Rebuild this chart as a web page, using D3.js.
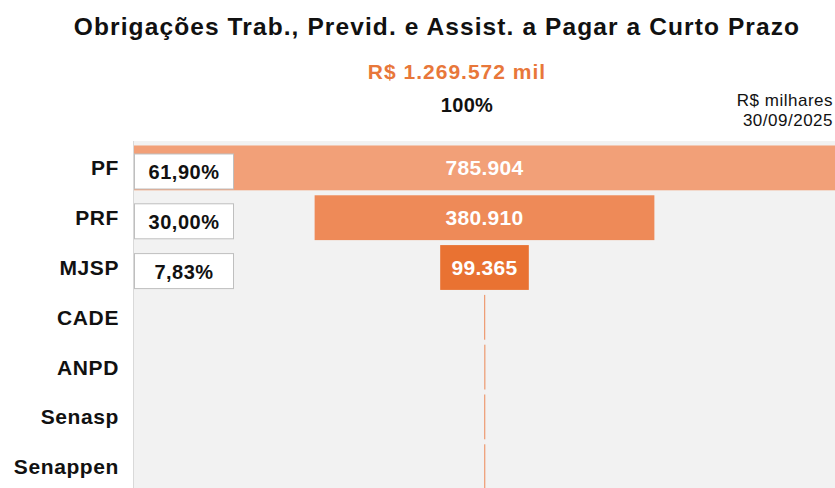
<!DOCTYPE html>
<meta charset="utf-8">
<style>
  body { margin: 0; background: #fff; }
  text { font-family: "Liberation Sans", Arial, sans-serif; }
</style>
<body>
<script src="https://cdn.jsdelivr.net/npm/d3@7"></script>
<script>
// data (R$ milhares)
var categories = ["PF", "PRF", "MJSP", "CADE", "ANPD", "Senasp", "Senappen"];
var values = [785904, 380910, 99365, 1020, 640, 880, 853];
var shares = ["61,90%", "30,00%", "7,83%", null, null, null, null];
var barColors = ["#F2A078", "#EE8A58", "#E97232", "#EE9A70", "#EE9A70", "#EE9A70", "#EE9A70"];

var width = 835, height = 488;
var panel = {left: 133, top: 141, right: 835, bottom: 488};
var cx = 484.5;

var svg = d3.select("body").append("svg")
    .attr("width", width)
    .attr("height", height);

// titles
svg.append("text")
    .attr("x", 437).attr("y", 35)
    .attr("text-anchor", "middle")
    .style("font-size", "24.5px").style("font-weight", "bold").style("fill", "#111")
    .style("letter-spacing", "1.1px")
    .text("Obrigações Trab., Previd. e Assist. a Pagar a Curto Prazo");

svg.append("text")
    .attr("x", 457).attr("y", 78.5)
    .attr("text-anchor", "middle")
    .style("font-size", "21px").style("font-weight", "bold").style("fill", "#E8773A")
    .style("letter-spacing", "1px")
    .text("R$ 1.269.572 mil");

svg.append("text")
    .attr("x", 467).attr("y", 112)
    .attr("text-anchor", "middle")
    .style("font-size", "20px").style("font-weight", "bold").style("fill", "#111")
    .style("letter-spacing", "0.3px")
    .text("100%");

svg.append("text")
    .attr("x", 833).attr("y", 106)
    .attr("text-anchor", "end")
    .style("font-size", "17px").style("fill", "#111")
    .style("letter-spacing", "0.5px")
    .text("R$ milhares");
svg.append("text")
    .attr("x", 833).attr("y", 126)
    .attr("text-anchor", "end")
    .style("font-size", "17px").style("fill", "#111")
    .style("letter-spacing", "0.5px")
    .text("30/09/2025");

// panel background
svg.append("rect")
    .attr("x", panel.left).attr("y", panel.top)
    .attr("width", panel.right - panel.left).attr("height", panel.bottom - panel.top)
    .style("fill", "#F2F2F2");
svg.append("line")
    .attr("x1", panel.left + 0.5).attr("x2", panel.left + 0.5)
    .attr("y1", panel.top).attr("y2", panel.bottom)
    .style("stroke", "#D9D9D9");

// scales
var y = d3.scaleBand()
    .domain(categories)
    .range([143, 143 + 49.8 * 7])
    .paddingInner(0.1)
    .paddingOuter(0.05);

var x = d3.scaleLinear()
    .domain([0, d3.max(values)])
    .range([0, 701]);

var rows = categories.map(function(c, i) {
    return {cat: c, value: values[i], share: shares[i], color: barColors[i]};
});

// bars (funnel, centered)
svg.selectAll(".bar")
    .data(rows)
    .enter().append("rect")
    .attr("class", "bar")
    .attr("x", function(d) { return cx - x(d.value) / 2; })
    .attr("y", function(d) { return y(d.cat); })
    .attr("width", function(d) { return Math.max(1.2, x(d.value)); })
    .attr("height", y.bandwidth())
    .style("fill", function(d) { return d.color; });

// value labels in bars
svg.selectAll(".val")
    .data(rows.filter(function(d) { return x(d.value) > 60; }))
    .enter().append("text")
    .attr("class", "val")
    .attr("x", cx)
    .attr("y", function(d) { return y(d.cat) + y.bandwidth() / 2 + 7.5; })
    .attr("text-anchor", "middle")
    .style("font-size", "21px").style("font-weight", "bold").style("fill", "#fff")
    .style("letter-spacing", "0.3px")
    .text(function(d) { return d3.format(",")(d.value).replace(/,/g, "."); });

// category labels
svg.selectAll(".cat")
    .data(rows)
    .enter().append("text")
    .attr("class", "cat")
    .attr("x", 119)
    .attr("y", function(d) { return y(d.cat) + y.bandwidth() / 2 + 7.5; })
    .attr("text-anchor", "end")
    .style("font-size", "21px").style("font-weight", "bold").style("fill", "#111")
    .style("letter-spacing", "0.6px")
    .text(function(d) { return d.cat; });

// share boxes
var boxes = svg.selectAll(".share")
    .data(rows.filter(function(d) { return d.share; }))
    .enter().append("g")
    .attr("class", "share")
    .attr("transform", function(d) { return "translate(134.5," + (y(d.cat) + 8.5) + ")"; });
boxes.append("rect")
    .attr("width", 99).attr("height", 35)
    .style("fill", "#fff").style("stroke", "#BFBFBF");
boxes.append("text")
    .attr("x", 49.5).attr("y", 25)
    .attr("text-anchor", "middle")
    .style("font-size", "20px").style("font-weight", "bold").style("fill", "#111")
    .style("letter-spacing", "0.5px")
    .text(function(d) { return d.share; });
</script>
</body>
